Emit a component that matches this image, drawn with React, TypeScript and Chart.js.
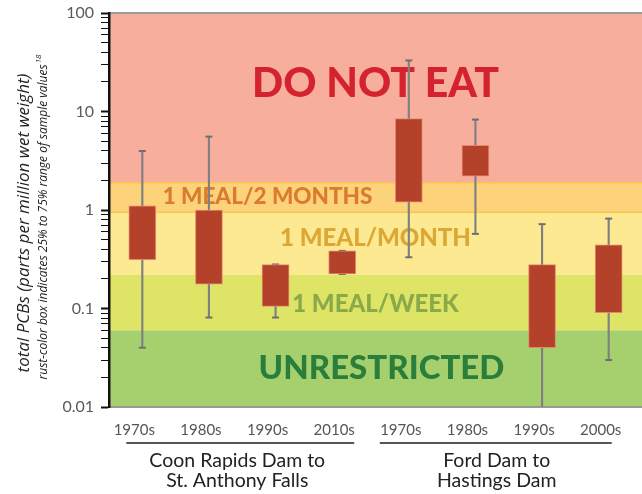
import React, { useEffect, useRef } from "react";
import { Chart, registerables } from "chart.js";

Chart.register(...registerables);

// ---- data ----
const CATEGORIES = ["1970s", "1980s", "1990s", "2010s", "1970s", "1980s", "1990s", "2000s"];
const Q1 = [0.313, 0.177, 0.105, 0.224, 1.2, 2.21, 0.04, 0.0906];
const Q3 = [1.1, 1.0, 0.279, 0.385, 8.47, 4.53, 0.279, 0.443];
const WHISKER_LOW = [0.04, 0.081, 0.081, 0.224, 0.331, 0.572, 0.01, 0.03];
const WHISKER_HIGH = [3.97, 5.56, 0.28, 0.385, 33, 8.28, 0.718, 0.818];
const LOW_CAPS = [0.04, 0.081, 0.081, 0.224, 0.331, 0.572, null, 0.03];
const HIGH_CAPS = [3.97, 5.56, 0.28, 0.385, 33, 8.28, 0.718, 0.818];

const Y_MAJOR_TICKS = [0.01, 0.1, 1, 10, 100];
const Y_MINOR_MULTIPLIERS = [2, 3, 4, 5, 6, 7, 8, 9];

const BAND_LIMITS = [100, 1.89, 0.95, 0.22, 0.06, 0.01];
const BAND_COLORS = ["#F7AE9C", "#FCD37B", "#FEE993", "#DDE466", "#A6D06D"];
const BAND_LABELS = ["DO NOT EAT", "1 MEAL/2 MONTHS", "1 MEAL/MONTH", "1 MEAL/WEEK", "UNRESTRICTED"];
const BAND_LABEL_VALUES = [19, 1.37, 0.52, 0.111, 0.0244];
const BAND_LABEL_DX = [0, -108, 0, 0, 6];
const BAND_LABEL_COLORS = ["#D4232F", "#DB7B2D", "#DBA835", "#8CA94A", "#2A7E3B"];
const BAND_LABEL_FONTS = [
  "900 41px Lato",
  "900 22.5px Lato",
  "900 24px Lato",
  "900 24px Lato",
  "900 33px Lato",
];

const GROUP_LINES = [
  ["Coon Rapids Dam to", "St. Anthony Falls"],
  ["Ford Dam to", "Hastings Dam"],
];
const GROUP_RANGES = [
  [0, 3],
  [4, 7],
];
const GROUP_LINE_PAD = [
  [-16, 12],
  [-29, 3],
];
const GROUP_TEXT_DX = [-5, -12];

const Y_TITLE = "total PCBs (parts per million wet weight)";
const Y_SUBTITLE = "rust-color box indicates 25% to 75% range of sample values";
const Y_SUBTITLE_SUP = "18";

const W = 642;
const H = 494;

const bandsPlugin = {
  id: "bands",
  beforeDraw(chart: any) {
    const { ctx, chartArea: a, scales } = chart;
    const y = scales.y;
    ctx.save();
    for (let i = 0; i < BAND_COLORS.length; i++) {
      const y0 = y.getPixelForValue(BAND_LIMITS[i]);
      const y1 = y.getPixelForValue(BAND_LIMITS[i + 1]);
      ctx.fillStyle = BAND_COLORS[i];
      ctx.fillRect(a.left, y0, a.right - a.left, y1 - y0);
    }
    ctx.strokeStyle = "#F9C650";
    ctx.lineWidth = 1.5;
    [BAND_LIMITS[1], BAND_LIMITS[2]].forEach((v) => {
      const py = y.getPixelForValue(v);
      ctx.beginPath();
      ctx.moveTo(a.left, py);
      ctx.lineTo(a.right, py);
      ctx.stroke();
    });
    // top border
    ctx.strokeStyle = "#9c9c9c";
    ctx.lineWidth = 2;
    ctx.beginPath();
    ctx.moveTo(a.left, a.top);
    ctx.lineTo(a.right, a.top);
    ctx.stroke();
    // band labels
    const cx = (a.left + a.right) / 2;
    ctx.textAlign = "center";
    ctx.textBaseline = "middle";
    BAND_LABELS.forEach((t, i) => {
      ctx.font = BAND_LABEL_FONTS[i];
      ctx.fillStyle = BAND_LABEL_COLORS[i];
      ctx.fillText(t, cx + BAND_LABEL_DX[i], y.getPixelForValue(BAND_LABEL_VALUES[i]));
    });
    ctx.restore();
  },
};

const annotationsPlugin = {
  id: "annotations",
  afterDraw(chart: any) {
    const { ctx, scales } = chart;
    const x = scales.x;
    ctx.save();
    // y axis titles
    ctx.fillStyle = "#222";
    ctx.textBaseline = "middle";
    ctx.save();
    ctx.translate(24, 223);
    ctx.rotate(-Math.PI / 2);
    ctx.textAlign = "center";
    ctx.font = 'italic 17px "Open Sans"';
    ctx.fillText(Y_TITLE, 0, 0);
    ctx.restore();

    ctx.save();
    ctx.translate(44, 217);
    ctx.rotate(-Math.PI / 2);
    ctx.textAlign = "left";
    ctx.font = 'italic 12px "Open Sans"';
    const w1 = ctx.measureText(Y_SUBTITLE).width;
    ctx.font = 'italic 8px "Open Sans"';
    const w2 = ctx.measureText(Y_SUBTITLE_SUP).width;
    const start = -(w1 + w2 + 1) / 2;
    ctx.font = 'italic 12px "Open Sans"';
    ctx.fillText(Y_SUBTITLE, start, 0);
    ctx.font = 'italic 8px "Open Sans"';
    ctx.fillText(Y_SUBTITLE_SUP, start + w1 + 1, -5);
    ctx.restore();

    // group labels
    GROUP_LINES.forEach((lines, g) => {
      const [i0, i1] = GROUP_RANGES[g];
      const xs = x.getPixelForValue(i0) + GROUP_LINE_PAD[g][0];
      const xe = x.getPixelForValue(i1) + GROUP_LINE_PAD[g][1];
      ctx.strokeStyle = "#555";
      ctx.lineWidth = 2;
      ctx.beginPath();
      ctx.moveTo(xs, 443);
      ctx.lineTo(xe, 443);
      ctx.stroke();
      const cx = (x.getPixelForValue(i0) + x.getPixelForValue(i1)) / 2 + GROUP_TEXT_DX[g];
      ctx.fillStyle = "#222";
      ctx.font = "19.5px Lato";
      ctx.textAlign = "center";
      ctx.fillText(lines[0], cx, 461);
      ctx.fillText(lines[1], cx, 481);
    });
    ctx.restore();
  },
};

export default function App() {
  const ref = useRef<HTMLCanvasElement>(null);

  useEffect(() => {
    document.body.style.margin = "0";
    const canvas = ref.current;
    if (!canvas) return;
    const yTicks: number[] = [];
    Y_MAJOR_TICKS.forEach((m, i) => {
      yTicks.push(m);
      if (i < Y_MAJOR_TICKS.length - 1) Y_MINOR_MULTIPLIERS.forEach((k) => yTicks.push(m * k));
    });

    const chart = new Chart(canvas, {
      type: "bar",
      data: {
        labels: CATEGORIES,
        datasets: [
          {
            type: "bar",
            label: "box",
            data: Q1.map((q, i) => [q, Q3[i]]) as any,
            backgroundColor: "#B4412A",
            borderColor: "#E5876A",
            borderWidth: 1,
            borderSkipped: false,
            barThickness: 27,
            grouped: false,
            order: 0,
          } as any,
          {
            type: "line",
            label: "high caps",
            data: HIGH_CAPS,
            showLine: false,
            pointStyle: "line",
            pointRadius: 3.5,
            pointBorderWidth: 2,
            pointBorderColor: "#707070",
            pointBackgroundColor: "#707070",
            order: 1,
          } as any,
          {
            type: "line",
            label: "low caps",
            data: LOW_CAPS,
            showLine: false,
            pointStyle: "line",
            pointRadius: 3.5,
            pointBorderWidth: 2,
            pointBorderColor: "#707070",
            pointBackgroundColor: "#707070",
            order: 1,
          } as any,
          {
            type: "bar",
            label: "whisker",
            data: WHISKER_LOW.map((l, i) => [l, WHISKER_HIGH[i]]) as any,
            backgroundColor: "#808080",
            borderWidth: 0,
            barThickness: 1.5,
            grouped: false,
            order: 2,
          } as any,
        ],
      },
      options: {
        animation: false,
        responsive: false,
        maintainAspectRatio: false,
        layout: { autoPadding: false, padding: { top: 13, left: 0, right: 0, bottom: 0 } },
        plugins: { legend: { display: false }, tooltip: { enabled: false } },
        scales: {
          x: {
            type: "category",
            offset: true,
            grid: { display: false, drawTicks: false },
            border: { display: true, color: "#9a9a9a", width: 2 },
            ticks: {
              color: "#555",
              font: { family: "Lato", size: 15 },
              padding: 14,
              labelOffset: -8,
              maxRotation: 0,
              autoSkip: false,
            },
            afterFit: (s: any) => {
              s.height = 87;
              s.paddingLeft = 0;
              s.paddingRight = 0;
            },
          },
          y: {
            type: "logarithmic",
            min: 0.01,
            max: 100,
            afterBuildTicks: (s: any) => {
              s.ticks = yTicks.map((v) => ({ value: v, major: Y_MAJOR_TICKS.includes(v) }));
            },
            ticks: {
              autoSkip: false,
              color: "#5a5a5a",
              font: { family: "Lato", size: 16 },
              padding: 7,
              callback: (v: any) => {
                const n = Number(v);
                if (!Y_MAJOR_TICKS.some((m) => Math.abs(m - n) < m * 1e-6)) return "";
                return String(n);
              },
            },
            grid: {
              drawOnChartArea: false,
              drawTicks: true,
              tickLength: 8,
              tickColor: "#111",
              tickWidth: (c: any) => (c.tick && c.tick.major ? 2 : 1),
            },
            border: { display: true, color: "#111", width: 2.5 },
            afterFit: (s: any) => {
              s.width = 109;
              s.paddingTop = 0;
              s.paddingBottom = 0;
            },
          },
        },
      },
      plugins: [bandsPlugin, annotationsPlugin],
    });
    return () => chart.destroy();
  }, []);

  return (
    <div style={{ width: W, height: H, position: "relative" }}>
      <canvas ref={ref} width={W} height={H} style={{ display: "block" }} />
    </div>
  );
}
